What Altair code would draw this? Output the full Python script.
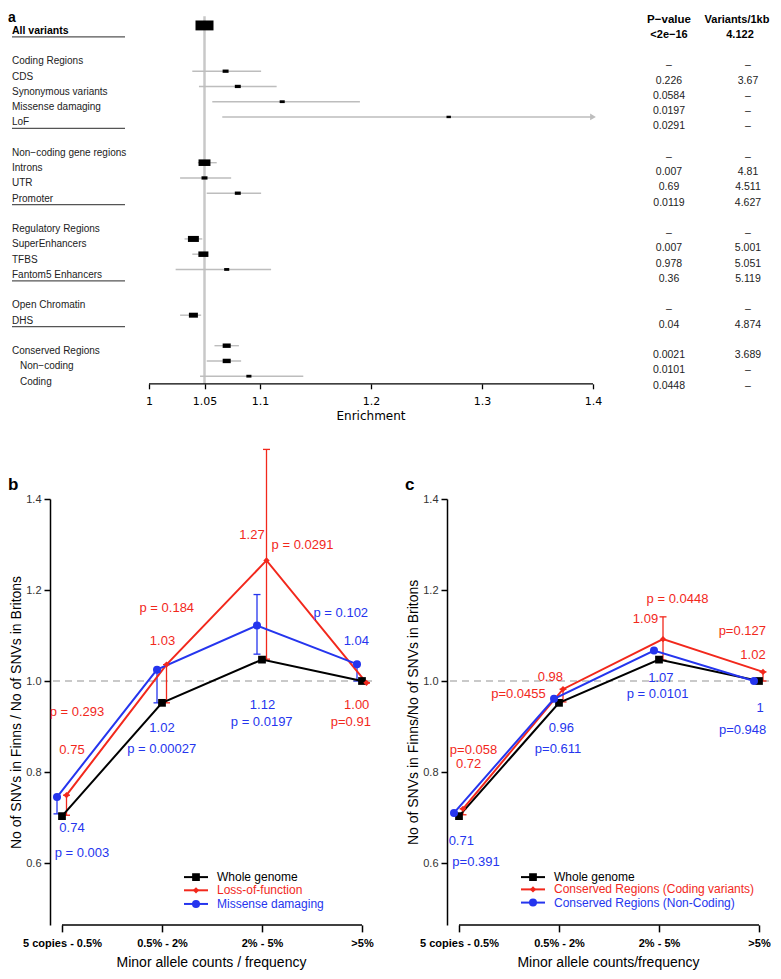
import altair as alt
import pandas as pd

# ---------------- Panel a : forest plot ----------------
a_labels = ["All variants", "Coding Regions", "CDS", "Synonymous variants",
            "Missense damaging", "LoF", "Non−coding gene regions", "Introns",
            "UTR", "Promoter", "Regulatory Regions", "SuperEnhancers", "TFBS",
            "Fantom5 Enhancers", "Open Chromatin", "DHS", "Conserved Regions",
            "Non−coding", "Coding"]
a_rows = [0, 2, 3, 4, 5, 6, 8, 9, 10, 11, 13, 14, 15, 16, 18, 19, 21, 22, 23]
a_indent = [0, 0, 0, 0, 0, 0, 0, 0, 0, 0, 0, 0, 0, 0, 0, 0, 0, 1, 1]
a_est = [1.050, None, 1.069, 1.080, 1.120, 1.270, None, 1.050, 1.050, 1.080,
         None, 1.040, 1.049, 1.070, None, 1.040, 1.070, 1.070, 1.090]
a_low = [1.046, None, 1.039, 1.045, 1.057, 1.066, None, 1.044, 1.028, 1.052,
         None, 1.032, 1.039, 1.024, None, 1.028, 1.059, 1.052, 1.046]
a_high = [1.054, None, 1.101, 1.115, 1.190, 1.520, None, 1.061, 1.074, 1.101,
          None, 1.048, 1.050, 1.110, None, 1.047, 1.081, 1.083, 1.139]
a_weight = [1.0, None, 0.11, 0.11, 0.08, 0.06, None, 0.44, 0.11, 0.11,
            None, 0.37, 0.31, 0.08, None, 0.25, 0.20, 0.20, 0.08]
a_pvalue = ["<2e−16", "–", "0.226", "0.0584", "0.0197", "0.0291", "–", "0.007",
            "0.69", "0.0119", "–", "0.007", "0.978", "0.36", "–", "0.04",
            "0.0021", "0.0101", "0.0448"]
a_per_kb = ["4.122", "–", "3.67", "–", "–", "–", "–", "4.81", "4.511", "4.627",
            "–", "5.001", "5.051", "5.119", "–", "4.874", "3.689", "–", "–"]
a_group_end = ["All variants", "LoF", "Promoter", "Fantom5 Enhancers", "DHS"]
a_headers = ["P−value", "Variants/1kb"]
a_ticks = [1, 1.05, 1.1, 1.2, 1.3, 1.4]
a_xtitle = "Enrichment"

a_df = pd.DataFrame({"label": a_labels, "row": a_rows, "indent": a_indent,
                     "est": a_est, "low": a_low, "high": a_high,
                     "weight": a_weight, "pvalue": a_pvalue, "perkb": a_per_kb})
a_df["groupend"] = a_df["label"].isin(a_group_end)

X_LO, X_HI = a_ticks[0], a_ticks[-1]
PX_PER_UNIT = 1110.0
A_LEFT = X_LO - 99 / PX_PER_UNIT          # room for the row labels
ROW_H = 15.25
Y_TOP, Y_BOT = -0.75, 23.5
A_H = (Y_BOT - Y_TOP) * ROW_H
BOX_PATH = "M-1,-0.55L1,-0.55L1,0.55L-1,0.55Z"
TXT = "#222222"

a_xscale = alt.Scale(domain=[A_LEFT, X_HI], nice=False, zero=False)
a_yscale = alt.Scale(domain=[Y_TOP, Y_BOT], reverse=True, nice=False, zero=False)
a_xaxis = alt.Axis(title=None, values=a_ticks, labelExpr="'' + datum.value", grid=False,
                   domain=False, tickColor="black", tickWidth=1.3, tickSize=5,
                   labelFont="DejaVu Sans", labelFontSize=11, labelPadding=7,
                   labelColor="black", labelFlush=False, labelOverlap=False)


def AX(f):
    return alt.X(f, type="quantitative", scale=a_xscale, axis=a_xaxis)


def AY(f):
    return alt.Y(f, type="quantitative", scale=a_yscale, axis=None)


a_base = alt.Chart(a_df)

a_ref = a_base.transform_filter("datum.row == 0").transform_calculate(
    y0="-0.6", y1=str(Y_BOT)).mark_rule(color="#c8c8c8", strokeWidth=2.5).encode(
    x=AX("est"), y=AY("y0"), y2="y1:Q")

a_axline = alt.Chart(pd.DataFrame({"x0": [X_LO], "x1": [X_HI], "y0": [Y_BOT]})).mark_rule(
    color="black", strokeWidth=1.3).encode(x=AX("x0"), x2="x1:Q", y=AY("y0"))

a_title = alt.Chart(pd.DataFrame({"t": [a_xtitle], "xm": [(a_ticks[3])]})).mark_text(
    font="DejaVu Sans", fontSize=12, baseline="top", color="black").encode(
    x=AX("xm"), y=alt.value(A_H + 27), text="t:N")

a_ci = a_base.transform_filter("isValid(datum.est)").transform_calculate(
    hic=f"min(datum.high, {X_HI})").mark_rule(color="#bdbdbd", strokeWidth=1.4).encode(
    x=AX("low"), x2="hic:Q", y=AY("row"))

a_arrow = a_base.transform_filter(f"datum.high > {X_HI}").transform_calculate(
    xa=str(X_HI)).mark_point(shape="triangle-right", filled=True, color="#bdbdbd",
                             size=45, opacity=1).encode(x=AX("xa"), y=AY("row"))

a_box = a_base.transform_filter("isValid(datum.est)").mark_point(
    shape=BOX_PATH, filled=True, color="black", opacity=1).encode(
    x=AX("est"), y=AY("row"),
    size=alt.Size("weight:Q", scale=alt.Scale(domain=[0, 1], range=[0, 324]), legend=None))

lab = a_base.transform_calculate(ly="datum.row + 0.35")
a_lab_bold = lab.transform_filter("datum.row == 0").mark_text(
    align="left", baseline="middle", fontSize=10.5, fontWeight="bold", color="black").encode(
    x=alt.value(-38), y=AY("ly"), text="label:N")
a_lab = lab.transform_filter("datum.row != 0 && datum.indent == 0").mark_text(
    align="left", baseline="middle", fontSize=10, color=TXT).encode(
    x=alt.value(-38), y=AY("ly"), text="label:N")
a_lab_ind = lab.transform_filter("datum.indent == 1").mark_text(
    align="left", baseline="middle", fontSize=10, color=TXT).encode(
    x=alt.value(-30), y=AY("ly"), text="label:N")

a_under = a_base.transform_filter("datum.groupend").transform_calculate(
    uy="datum.row + 0.75").mark_rule(color="#555555", strokeWidth=1.3).encode(
    x=alt.value(-38), x2=alt.value(75), y=AY("uy"))

tab = a_base.transform_calculate(ty="datum.row + 0.62")
a_p_bold = tab.transform_filter("datum.row == 0").mark_text(
    fontSize=11, fontWeight="bold", color="black").encode(
    x=alt.value(619), y=AY("ty"), text="pvalue:N")
a_k_bold = tab.transform_filter("datum.row == 0").mark_text(
    fontSize=11, fontWeight="bold", color="black").encode(
    x=alt.value(690), y=AY("ty"), text="perkb:N")
a_p = tab.transform_filter("datum.row != 0").mark_text(fontSize=10.5, color=TXT).encode(
    x=alt.value(619), y=AY("ty"), text="pvalue:N")
a_k = tab.transform_filter("datum.row != 0").mark_text(fontSize=10.5, color=TXT).encode(
    x=alt.value(698), y=AY("ty"), text="perkb:N")

hdr = alt.Chart(pd.DataFrame({"h": a_headers, "hy": [-0.37, -0.37]}))
a_h1 = hdr.transform_filter(f"datum.h == '{a_headers[0]}'").mark_text(
    fontSize=11.5, fontWeight="bold", color="black").encode(
    x=alt.value(619), y=AY("hy"), text="h:N")
a_h2 = hdr.transform_filter(f"datum.h == '{a_headers[1]}'").mark_text(
    fontSize=11, fontWeight="bold", color="black").encode(
    x=alt.value(687), y=AY("hy"), text="h:N")

a_letter = alt.Chart(pd.DataFrame({"t": ["a"]})).mark_text(
    fontSize=14, fontWeight="bold", align="left", baseline="middle", color="black").encode(
    x=alt.value(-42), y=alt.value(4), text="t:N")

panel_a = alt.layer(a_ref, a_axline, a_ci, a_arrow, a_box, a_lab_bold, a_lab, a_lab_ind,
                    a_under, a_p_bold, a_k_bold, a_p, a_k, a_h1, a_h2, a_letter,
                    a_title).properties(
    width=(X_HI - A_LEFT) * PX_PER_UNIT, height=A_H)

# ---------------- Panels b and c ----------------
cats = ["5 copies - 0.5%", "0.5% - 2%", "2% - 5%", ">5%"]
RED, BLUE, BLACK = "#f2281c", "#2535ee", "#000000"

b_series = ["Whole genome", "Loss-of-function", "Missense damaging"]
b_values = {"Whole genome": [0.703, 0.952, 1.047, 1.000],
            "Loss-of-function": [0.749, 1.036, 1.265, 0.996],
            "Missense damaging": [0.745, 1.025, 1.122, 1.037]}
b_err_low = {"Loss-of-function": [0.705, 0.952, 1.048, 0.996],
             "Missense damaging": [0.708, 0.952, 1.059, 1.000]}
b_err_high = {"Loss-of-function": [0.749, 1.036, 1.509, 0.996],
              "Missense damaging": [0.745, 1.025, 1.190, 1.037]}
b_notes = [("1.27", "Loss-of-function", 1.90, 1.321),
           ("p = 0.0291", "Loss-of-function", 2.405, 1.300),
           ("p = 0.184", "Loss-of-function", 1.048, 1.160),
           ("1.03", "Loss-of-function", 1.005, 1.087),
           ("p = 0.102", "Missense damaging", 2.788, 1.149),
           ("1.04", "Missense damaging", 2.943, 1.087),
           ("p = 0.293", "Loss-of-function", 0.15, 0.932),
           ("0.75", "Loss-of-function", 0.10, 0.849),
           ("1.02", "Missense damaging", 1.00, 0.897),
           ("p = 0.00027", "Missense damaging", 0.997, 0.850),
           ("1.12", "Missense damaging", 2.005, 0.947),
           ("p = 0.0197", "Missense damaging", 1.997, 0.910),
           ("1.00", "Loss-of-function", 2.947, 0.947),
           ("p=0.91", "Loss-of-function", 2.888, 0.910),
           ("0.74", "Missense damaging", 0.10, 0.678),
           ("p = 0.003", "Missense damaging", 0.20, 0.622)]

c_series = ["Whole genome", "Conserved Regions (Coding variants)",
            "Conserved Regions (Non-Coding)"]
c_values = {"Whole genome": [0.703, 0.952, 1.047, 1.000],
            "Conserved Regions (Coding variants)": [0.719, 0.982, 1.092, 1.020],
            "Conserved Regions (Non-Coding)": [0.710, 0.961, 1.067, 1.000]}
c_err_low = {"Conserved Regions (Coding variants)": [0.706, 0.954, 1.046, 1.000]}
c_err_high = {"Conserved Regions (Coding variants)": [0.719, 0.982, 1.141, 1.020]}
c_notes = [("p = 0.0448", "Conserved Regions (Coding variants)", 2.185, 1.180),
           ("1.09", "Conserved Regions (Coding variants)", 1.865, 1.137),
           ("p=0.127", "Conserved Regions (Coding variants)", 2.833, 1.109),
           ("1.02", "Conserved Regions (Coding variants)", 2.94, 1.058),
           ("0.98", "Conserved Regions (Coding variants)", 0.913, 1.009),
           ("1.07", "Conserved Regions (Non-Coding)", 2.018, 1.007),
           ("p=0.0455", "Conserved Regions (Coding variants)", 0.595, 0.971),
           ("p = 0.0101", "Conserved Regions (Non-Coding)", 1.986, 0.971),
           ("1", "Conserved Regions (Non-Coding)", 3.01, 0.941),
           ("p=0.948", "Conserved Regions (Non-Coding)", 2.836, 0.892),
           ("0.96", "Conserved Regions (Non-Coding)", 1.023, 0.897),
           ("p=0.611", "Conserved Regions (Non-Coding)", 0.99, 0.850),
           ("p=0.058", "Conserved Regions (Coding variants)", 0.145, 0.849),
           ("0.72", "Conserved Regions (Coding variants)", 0.096, 0.818),
           ("0.71", "Conserved Regions (Non-Coding)", 0.023, 0.648),
           ("p=0.391", "Conserved Regions (Non-Coding)", 0.17, 0.602)]

Y_MIN, Y_MAX = 0.464, 1.4
Y_TICKS = [0.6, 0.8, 1.0, 1.2, 1.4]
X_DOM = [-0.12, 3.1]


def panel(letter, series, values, err_lo, err_hi, offsets, notes,
          leg_x, leg_y, ytitle, xtitle):
    colors = [BLACK, RED, BLUE]
    shapes = {series[0]: "square", series[1]: "diamond", series[2]: "circle"}
    sizes = {series[0]: 60, series[1]: 40, series[2]: 64}
    cmap = dict(zip(series, colors))

    pts = pd.DataFrame([{"series": s, "xpos": i + offsets[s], "value": v}
                        for s in series for i, v in enumerate(values[s])])
    errs = pd.DataFrame([{"series": s, "xpos": i + offsets[s], "lo": lo,
                          "hi": err_hi[s][i]}
                         for s in err_lo for i, lo in enumerate(err_lo[s])])
    caps = pd.DataFrame([{"series": r["series"], "xpos": r["xpos"], "cap": r[k]}
                         for _, r in errs.iterrows() for k in ("lo", "hi")])
    nt = pd.DataFrame(notes, columns=["text", "series", "nx", "ny"])
    leg = pd.DataFrame({"series": series, "ly": leg_y})
    leg["lx1"] = leg_x
    leg["lx2"] = leg_x + 0.24
    leg["lm"] = leg_x + 0.12
    leg["lt"] = leg_x + 0.33

    xs = alt.Scale(domain=X_DOM, nice=False, zero=False)
    ys = alt.Scale(domain=[Y_MIN, Y_MAX], nice=False, zero=False)
    lab_expr = "[" + ",".join("'" + c + "'" for c in cats) + "][datum.value]"
    xaxis = alt.Axis(values=list(range(len(cats))), labelExpr=lab_expr, domain=False,
                     grid=False, tickColor="black", tickSize=7, tickWidth=1.5,
                     labelFontWeight="bold", labelFontSize=11, labelColor="black",
                     labelPadding=6, labelFlush=False, title=xtitle, titleFontSize=14,
                     titleFontWeight="normal", titlePadding=7, titleColor="black")
    yaxis = alt.Axis(values=Y_TICKS, format=".1f", grid=False, domainColor="black",
                     domainWidth=1.5, tickColor="black", tickSize=6, tickWidth=1.5,
                     labelFontSize=11, labelColor="#333333", labelPadding=3,
                     title=ytitle, titleFontSize=14, titleFontWeight="normal",
                     titleColor="black", titlePadding=2)

    def X(f):
        return alt.X(f, type="quantitative", scale=xs, axis=xaxis)

    def Y(f):
        return alt.Y(f, type="quantitative", scale=ys, axis=yaxis)

    col = alt.Color("series:N", scale=alt.Scale(domain=series, range=colors), legend=None)

    dash = alt.Chart(pd.DataFrame({"ref": [1.0]})).mark_rule(
        color="#b8b8b8", strokeDash=[7, 5], strokeWidth=1.3).encode(y=Y("ref"))
    xline = alt.Chart(pd.DataFrame({"x0": [0], "x1": [len(cats) - 1], "y0": [Y_MIN]})).mark_rule(
        color="black", strokeWidth=1.5).encode(x=X("x0"), x2="x1:Q", y=Y("y0"))
    ebar = alt.Chart(errs).mark_rule(strokeWidth=1.3).encode(
        x=X("xpos"), y=Y("lo"), y2="hi:Q", color=col)
    ecap = alt.Chart(caps).mark_point(shape="stroke", size=49, strokeWidth=1.3, opacity=1).encode(
        x=X("xpos"), y=Y("cap"), color=col)
    lines = alt.Chart(pts).mark_line(strokeWidth=2).encode(
        x=X("xpos"), y=Y("value"), color=col)
    marks = [alt.Chart(pts).transform_filter(alt.datum.series == s).mark_point(
        shape=shapes[s], size=sizes[s], filled=True, opacity=1, color=cmap[s]).encode(
        x=X("xpos"), y=Y("value")) for s in series]
    texts = alt.Chart(nt).mark_text(fontSize=13).encode(
        x=X("nx"), y=Y("ny"), text="text:N", color=col)
    leg_lines = alt.Chart(leg).mark_rule(strokeWidth=2).encode(
        x=X("lx1"), x2="lx2:Q", y=Y("ly"), color=col)
    leg_marks = [alt.Chart(leg).transform_filter(alt.datum.series == s).mark_point(
        shape=shapes[s], size=sizes[s], filled=True, opacity=1, color=cmap[s]).encode(
        x=X("lm"), y=Y("ly")) for s in series]
    leg_text = alt.Chart(leg).mark_text(align="left", fontSize=12).encode(
        x=X("lt"), y=Y("ly"), text="series:N", color=col)
    let = alt.Chart(pd.DataFrame({"t": [letter]})).mark_text(
        fontSize=17, fontWeight="bold", align="left", baseline="top", color="black").encode(
        x=alt.value(-42), y=alt.value(-22), text="t:N")

    return alt.layer(dash, xline, ebar, ecap, lines, *marks, texts, leg_lines,
                     *leg_marks, leg_text, let).properties(
        width=(X_DOM[1] - X_DOM[0]) * 100, height=(Y_MAX - Y_MIN) * 455)


b_off = {"Whole genome": 0.0, "Loss-of-function": 0.045, "Missense damaging": -0.05}
c_off = {"Whole genome": 0.0, "Conserved Regions (Coding variants)": 0.04,
         "Conserved Regions (Non-Coding)": -0.05}

panel_b = panel("b", b_series, b_values, b_err_low, b_err_high, b_off, b_notes,
                1.22, [0.569, 0.540, 0.510],
                "No of SNVs in Finns / No of SNVs in Britons",
                "Minor allele counts / frequency")
panel_c = panel("c", c_series, c_values, c_err_low, c_err_high, c_off, c_notes,
                0.62, [0.569, 0.542, 0.513],
                "No of SNVs in Finns/No of SNVs in Britons",
                "Minor allele counts/frequency")

row_bc = alt.hconcat(panel_b, panel_c, spacing=31).resolve_scale(color="independent")

chart = alt.vconcat(panel_a, row_bc, spacing=24).properties(
    padding={"left": 0, "top": 3, "right": 0, "bottom": 0}
).configure(font="Liberation Sans").configure_view(stroke=None)

chart.save("out.html", embed_options={"renderer": "svg", "actions": False})
